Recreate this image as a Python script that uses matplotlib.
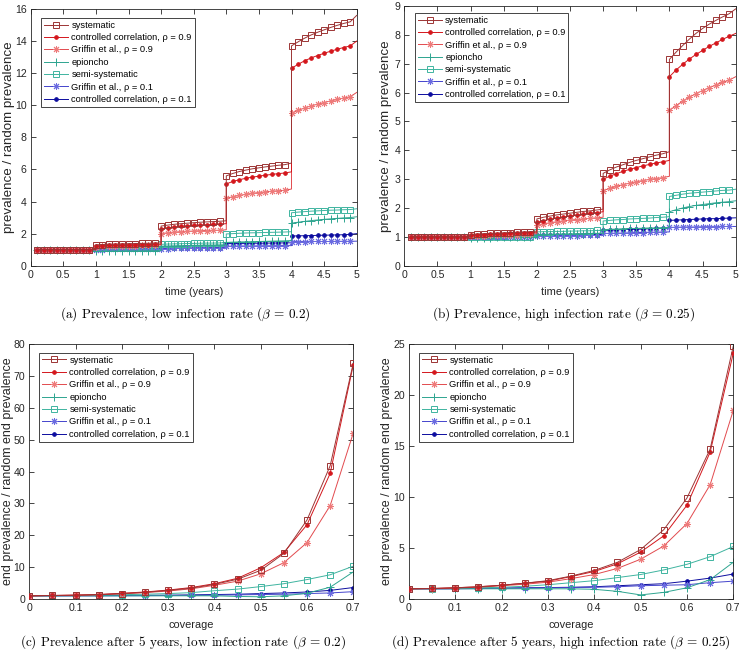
import numpy as np
import matplotlib
matplotlib.use('Agg')
import matplotlib.pyplot as plt
from matplotlib.lines import Line2D
from matplotlib.ticker import FormatStrFormatter, MultipleLocator

plt.rcParams['font.family'] = ['Liberation Sans', 'DejaVu Sans']
plt.rcParams['mathtext.fontset'] = 'cm'

# ---------------- data ----------------
labels = ['systematic', 'controlled correlation, ρ = 0.9', 'Griffin et al., ρ = 0.9',
          'epioncho', 'semi-systematic', 'Griffin et al., ρ = 0.1',
          'controlled correlation, ρ = 0.1']
years = [0, 1, 2, 3, 4]

# time series, low infection rate (beta = 0.2): marker values per year, and value at year end
sys_low = [[1.00, 1.00, 1.00, 1.00, 1.00, 1.00, 1.00, 1.00, 1.00],
           [1.30, 1.32, 1.34, 1.35, 1.36, 1.37, 1.38, 1.39, 1.40, 1.41],
           [2.47, 2.53, 2.58, 2.62, 2.65, 2.68, 2.71, 2.73, 2.75, 2.77],
           [5.60, 5.75, 5.87, 5.96, 6.04, 6.10, 6.16, 6.21, 6.26, 6.30],
           [13.70, 13.95, 14.18, 14.38, 14.55, 14.70, 14.85, 14.98, 15.10, 15.20]]
sys_low_end = [1.00, 1.42, 2.80, 6.40, 15.60]
cc9_low = [[1.00, 1.00, 1.00, 1.00, 1.00, 1.00, 1.00, 1.00, 1.00],
           [1.22, 1.24, 1.26, 1.27, 1.28, 1.29, 1.30, 1.31, 1.32, 1.33],
           [2.30, 2.36, 2.41, 2.45, 2.48, 2.51, 2.53, 2.55, 2.57, 2.59],
           [5.10, 5.25, 5.36, 5.45, 5.52, 5.58, 5.64, 5.69, 5.74, 5.78],
           [12.30, 12.55, 12.77, 12.95, 13.10, 13.24, 13.37, 13.49, 13.60, 13.70]]
cc9_low_end = [1.00, 1.34, 2.62, 5.85, 14.00]
gr9_low = [[1.00, 1.00, 1.00, 1.00, 1.00, 1.00, 1.00, 1.00, 1.00],
           [1.18, 1.20, 1.21, 1.22, 1.23, 1.24, 1.25, 1.26, 1.27, 1.28],
           [2.00, 2.05, 2.09, 2.12, 2.14, 2.16, 2.18, 2.19, 2.20, 2.21],
           [4.20, 4.30, 4.38, 4.45, 4.51, 4.56, 4.60, 4.64, 4.67, 4.70],
           [9.50, 9.68, 9.83, 9.96, 10.07, 10.17, 10.27, 10.36, 10.45, 10.53]]
gr9_low_end = [1.00, 1.29, 2.24, 4.78, 10.80]
epi_low = [[1.00, 1.00, 1.00, 1.00, 1.00, 1.00, 1.00, 1.00, 1.00],
           [0.90, 0.90, 0.91, 0.91, 0.91, 0.92, 0.92, 0.92, 0.93, 0.93],
           [1.22, 1.23, 1.24, 1.25, 1.26, 1.27, 1.28, 1.29, 1.29, 1.30],
           [1.45, 1.47, 1.48, 1.49, 1.50, 1.51, 1.52, 1.53, 1.54, 1.55],
           [2.65, 2.71, 2.76, 2.81, 2.85, 2.89, 2.92, 2.95, 2.98, 3.00]]
epi_low_end = [1.00, 0.94, 1.31, 1.57, 3.05]
semi_low = [[1.00, 1.00, 1.00, 1.00, 1.00, 1.00, 1.00, 1.00, 1.00],
            [1.08, 1.09, 1.09, 1.10, 1.10, 1.11, 1.11, 1.12, 1.12, 1.12],
            [1.33, 1.35, 1.36, 1.37, 1.38, 1.39, 1.40, 1.41, 1.41, 1.42],
            [1.98, 2.00, 2.02, 2.04, 2.05, 2.06, 2.07, 2.08, 2.09, 2.10],
            [3.30, 3.34, 3.37, 3.40, 3.42, 3.44, 3.46, 3.47, 3.49, 3.50]]
semi_low_end = [1.00, 1.13, 1.44, 2.12, 3.55]
gr1_low = [[1.00, 1.00, 1.00, 1.00, 1.00, 1.00, 1.00, 1.00, 1.00],
           [1.00, 1.00, 1.01, 1.01, 1.01, 1.01, 1.02, 1.02, 1.02, 1.02],
           [1.07, 1.07, 1.08, 1.08, 1.08, 1.09, 1.09, 1.09, 1.10, 1.10],
           [1.22, 1.22, 1.23, 1.23, 1.23, 1.24, 1.24, 1.24, 1.25, 1.25],
           [1.50, 1.50, 1.50, 1.51, 1.51, 1.51, 1.51, 1.52, 1.52, 1.52]]
gr1_low_end = [1.00, 1.02, 1.10, 1.25, 1.53]
cc1_low = [[1.00, 1.00, 1.00, 1.00, 1.00, 1.00, 1.00, 1.00, 1.00],
           [1.03, 1.03, 1.04, 1.04, 1.04, 1.04, 1.05, 1.05, 1.05, 1.05],
           [1.08, 1.09, 1.09, 1.10, 1.10, 1.10, 1.11, 1.11, 1.12, 1.12],
           [1.38, 1.38, 1.39, 1.39, 1.40, 1.40, 1.41, 1.41, 1.42, 1.42],
           [1.85, 1.86, 1.87, 1.88, 1.89, 1.90, 1.91, 1.92, 1.93, 1.95]]
cc1_low_end = [1.00, 1.05, 1.12, 1.43, 2.00]

# time series, high infection rate (beta = 0.25)
sys_high = [[1.00, 1.00, 1.00, 1.00, 1.00, 1.00, 1.00, 1.00, 1.00],
            [1.08, 1.10, 1.11, 1.12, 1.13, 1.14, 1.15, 1.16, 1.17, 1.18],
            [1.62, 1.68, 1.72, 1.76, 1.79, 1.82, 1.85, 1.88, 1.90, 1.93],
            [3.20, 3.32, 3.42, 3.50, 3.58, 3.65, 3.71, 3.77, 3.83, 3.88],
            [7.15, 7.40, 7.63, 7.85, 8.05, 8.22, 8.37, 8.50, 8.62, 8.73]]
sys_high_end = [1.00, 1.20, 1.96, 3.95, 8.90]
cc9_high = [[1.00, 1.00, 1.00, 1.00, 1.00, 1.00, 1.00, 1.00, 1.00],
            [1.05, 1.07, 1.08, 1.09, 1.10, 1.11, 1.12, 1.13, 1.14, 1.15],
            [1.50, 1.56, 1.61, 1.65, 1.69, 1.72, 1.75, 1.78, 1.81, 1.84],
            [3.00, 3.10, 3.19, 3.27, 3.34, 3.40, 3.46, 3.51, 3.56, 3.60],
            [6.55, 6.78, 6.98, 7.16, 7.32, 7.46, 7.60, 7.72, 7.84, 7.95]]
cc9_high_end = [1.00, 1.16, 1.87, 3.65, 8.05]
gr9_high = [[1.00, 1.00, 1.00, 1.00, 1.00, 1.00, 1.00, 1.00, 1.00],
            [1.02, 1.03, 1.04, 1.05, 1.06, 1.07, 1.08, 1.08, 1.09, 1.10],
            [1.40, 1.45, 1.49, 1.52, 1.55, 1.58, 1.60, 1.62, 1.64, 1.66],
            [2.60, 2.68, 2.75, 2.81, 2.86, 2.91, 2.95, 2.99, 3.02, 3.05],
            [5.38, 5.55, 5.70, 5.84, 5.96, 6.07, 6.17, 6.26, 6.35, 6.43]]
gr9_high_end = [1.00, 1.11, 1.68, 3.10, 6.55]
epi_high = [[1.00, 1.00, 1.00, 1.00, 1.00, 1.00, 1.00, 1.00, 1.00],
            [0.97, 0.97, 0.97, 0.97, 0.98, 0.98, 0.98, 0.98, 0.98, 0.98],
            [1.08, 1.08, 1.09, 1.09, 1.10, 1.10, 1.11, 1.11, 1.12, 1.12],
            [1.25, 1.26, 1.27, 1.28, 1.29, 1.29, 1.30, 1.31, 1.31, 1.32],
            [1.87, 1.94, 2.00, 2.05, 2.09, 2.12, 2.15, 2.18, 2.20, 2.22]]
epi_high_end = [1.00, 0.98, 1.13, 1.33, 2.25]
semi_high = [[1.00, 1.00, 1.00, 1.00, 1.00, 1.00, 1.00, 1.00, 1.00],
             [0.99, 0.99, 0.99, 1.00, 1.00, 1.00, 1.00, 1.01, 1.01, 1.01],
             [1.17, 1.18, 1.18, 1.19, 1.19, 1.20, 1.20, 1.21, 1.21, 1.22],
             [1.55, 1.57, 1.59, 1.60, 1.62, 1.63, 1.64, 1.65, 1.67, 1.68],
             [2.40, 2.44, 2.48, 2.51, 2.53, 2.55, 2.57, 2.59, 2.61, 2.62]]
semi_high_end = [1.00, 1.01, 1.23, 1.70, 2.65]
gr1_high = [[1.00, 1.00, 1.00, 1.00, 1.00, 1.00, 1.00, 1.00, 1.00],
            [0.99, 0.99, 0.99, 0.99, 1.00, 1.00, 1.00, 1.00, 1.00, 1.00],
            [1.03, 1.03, 1.03, 1.04, 1.04, 1.04, 1.04, 1.05, 1.05, 1.05],
            [1.12, 1.12, 1.13, 1.13, 1.14, 1.15, 1.15, 1.16, 1.16, 1.17],
            [1.33, 1.33, 1.34, 1.34, 1.34, 1.35, 1.35, 1.35, 1.36, 1.36]]
gr1_high_end = [1.00, 1.00, 1.05, 1.17, 1.36]
cc1_high = [[1.00, 1.00, 1.00, 1.00, 1.00, 1.00, 1.00, 1.00, 1.00],
            [1.00, 1.00, 1.01, 1.01, 1.01, 1.01, 1.02, 1.02, 1.02, 1.02],
            [1.05, 1.05, 1.06, 1.06, 1.06, 1.07, 1.07, 1.07, 1.08, 1.08],
            [1.22, 1.23, 1.24, 1.25, 1.26, 1.26, 1.27, 1.28, 1.29, 1.30],
            [1.57, 1.58, 1.59, 1.60, 1.61, 1.62, 1.63, 1.63, 1.64, 1.65]]
cc1_high_end = [1.00, 1.02, 1.08, 1.30, 1.66]

# end prevalence vs coverage
coverage = [0, 0.05, 0.1, 0.15, 0.2, 0.25, 0.3, 0.35, 0.4, 0.45, 0.5, 0.55, 0.6, 0.65, 0.7]
sys_cov_low = [1, 1.1, 1.2, 1.4, 1.7, 2.1, 2.7, 3.4, 4.6, 6.2, 9.0, 14.3, 24.8, 41.8, 74.0]
cc9_cov_low = [1, 1.1, 1.2, 1.4, 1.8, 2.2, 2.8, 3.6, 4.8, 6.5, 9.8, 14.6, 23.3, 39.4, 73.5]
gr9_cov_low = [1, 1.1, 1.2, 1.35, 1.6, 2.0, 2.5, 3.2, 4.3, 5.6, 7.9, 11.4, 17.7, 29.3, 52.1]
epi_cov_low = [1, 1.0, 1.0, 1.0, 1.0, 1.0, 1.0, 1.0, 1.0, 0.8, 0.7, 1.0, 1.8, 3.7, 8.5]
semi_cov_low = [1, 1.05, 1.1, 1.2, 1.35, 1.5, 1.7, 2.0, 2.6, 3.1, 3.9, 4.8, 6.1, 7.6, 10.3]
gr1_cov_low = [1, 1.0, 1.0, 1.0, 1.0, 1.05, 1.1, 1.1, 1.2, 1.3, 1.4, 1.5, 1.7, 1.9, 2.3]
cc1_cov_low = [1, 1.0, 1.05, 1.05, 1.1, 1.15, 1.2, 1.3, 1.4, 1.5, 1.7, 1.9, 2.2, 2.7, 3.6]

sys_cov_high = [1, 1.03, 1.1, 1.2, 1.35, 1.55, 1.8, 2.25, 2.8, 3.6, 4.85, 6.8, 9.9, 14.7, 24.8]
cc9_cov_high = [1, 1.03, 1.1, 1.2, 1.35, 1.55, 1.75, 2.2, 2.7, 3.45, 4.6, 6.2, 9.2, 14.4, 24.1]
gr9_cov_high = [1, 1.02, 1.08, 1.15, 1.3, 1.45, 1.65, 2.0, 2.4, 3.0, 3.9, 5.2, 7.4, 11.2, 18.5]
epi_cov_high = [1, 1.0, 1.0, 1.0, 1.0, 1.0, 1.0, 1.0, 0.95, 0.75, 0.4, 0.65, 1.1, 1.9, 3.6]
semi_cov_high = [1, 1.02, 1.05, 1.1, 1.15, 1.25, 1.4, 1.6, 1.8, 2.1, 2.4, 2.85, 3.4, 4.15, 5.15]
gr1_cov_high = [1, 1.0, 1.0, 1.02, 1.05, 1.07, 1.1, 1.12, 1.15, 1.2, 1.3, 1.35, 1.4, 1.6, 1.75]
cc1_cov_high = [1, 1.0, 1.02, 1.05, 1.07, 1.1, 1.12, 1.15, 1.2, 1.3, 1.4, 1.5, 1.75, 2.05, 2.45]

captions = [r'(a) Prevalence, low infection rate ($\beta$ = 0.2)',
            r'(b) Prevalence, high infection rate ($\beta$ = 0.25)',
            r'(c) Prevalence after 5 years, low infection rate ($\beta$ = 0.2)',
            r'(d) Prevalence after 5 years, high infection rate ($\beta$ = 0.25)']

# ---------------- styles ----------------
styles = [
    dict(color='#9c3434', marker='s', ms=5, mfc='none', mec='#9c3434'),
    dict(color='#d4161c', marker='o', ms=2.6, mfc='#d4161c', mec='#d4161c'),
    dict(color='#e24a4e', marker=(8, 2, 0), ms=5, mfc='#ee7a7a', mec='#ee7a7a'),
    dict(color='#2ea590', marker='+', ms=6, mfc='#2ea590', mec='#2ea590'),
    dict(color='#3fb4a0', marker='s', ms=5, mfc='none', mec='#3fb4a0'),
    dict(color='#4444cc', marker=(8, 2, 0), ms=5, mfc='#6a6ae0', mec='#6a6ae0'),
    dict(color='#0c0c9e', marker='o', ms=2.6, mfc='#0c0c9e', mec='#0c0c9e'),
]
LW = 0.7
TXT = '#262626'

W, H = 740, 655
fig = plt.figure(figsize=(W / 100, H / 100), dpi=100)


def ax_at(left, top, right, bottom):
    return fig.add_axes([left / W, 1 - bottom / H, (right - left) / W, (bottom - top) / H])


def style_axes(ax):
    ax.tick_params(direction='in', length=3.5, width=0.6, top=True, right=True,
                   labelsize=7.6, colors=TXT, pad=3)
    for s in ax.spines.values():
        s.set_linewidth(0.6)
        s.set_color(TXT)


def add_legend(ax, ax_x, ax_y):
    handles = [Line2D([], [], color=st['color'], lw=LW, marker=st['marker'], ms=st['ms'],
                      mfc=st['mfc'], mec=st['mec'], mew=0.7) for st in styles]
    leg = ax.legend(handles, labels, loc='upper left', bbox_to_anchor=(ax_x, ax_y),
                    borderaxespad=0, fontsize=6.7, labelspacing=0.36, borderpad=0.3,
                    handlelength=2.6, handletextpad=0.35, fancybox=False, framealpha=1,
                    edgecolor=TXT)
    leg.get_frame().set_linewidth(0.6)
    for t in leg.get_texts():
        t.set_color('black')


def time_plot(ax, series, ends):
    for i in reversed(range(len(series))):
        st = styles[i]
        mx, my, lx, ly = [], [], [], []
        for k, yr in enumerate(years):
            vals = series[i][k]
            n = len(vals)
            xs = list(yr + 1 - 0.1 * np.arange(n, 0, -1))
            mx += xs
            my += vals
            lx += xs + [yr + 1]
            ly += vals + [ends[i][k]]
        ax.plot(lx, ly, color=st['color'], lw=LW, zorder=2 + (7 - i) * 0.1)
        ax.plot(mx, my, ls='none', marker=st['marker'], ms=st['ms'], mfc=st['mfc'],
                mec=st['mec'], mew=0.7, zorder=2 + (7 - i) * 0.1)
    ax.set_xlim(0, 5)
    ax.xaxis.set_major_locator(MultipleLocator(0.5))
    ax.xaxis.set_major_formatter(FormatStrFormatter('%g'))
    ax.set_xlabel('time (years)', fontsize=7.9, color=TXT, labelpad=5)
    ax.set_ylabel('prevalence / random prevalence', fontsize=9.6, color=TXT)


def cov_plot(ax, series):
    for i in reversed(range(len(series))):
        st = styles[i]
        ax.plot(coverage, series[i], color=st['color'], lw=LW, marker=st['marker'], ms=st['ms'],
                mfc=st['mfc'], mec=st['mec'], mew=0.7, zorder=2 + (7 - i) * 0.1)
    ax.set_xlim(0, 0.7)
    ax.xaxis.set_major_locator(MultipleLocator(0.1))
    ax.xaxis.set_major_formatter(FormatStrFormatter('%g'))
    ax.set_xlabel('coverage', fontsize=7.9, color=TXT, labelpad=5)
    ax.set_ylabel('end prevalence / random end prevalence', fontsize=9.0, color=TXT)


ax1 = ax_at(30.7, 9, 356.7, 265.7)
time_plot(ax1, [sys_low, cc9_low, gr9_low, epi_low, semi_low, gr1_low, cc1_low],
          [sys_low_end, cc9_low_end, gr9_low_end, epi_low_end, semi_low_end, gr1_low_end, cc1_low_end])
ax1.set_ylim(0, 16)
ax1.yaxis.set_major_locator(MultipleLocator(2))
ax1.yaxis.set_label_coords(-0.0475, 0.5)

ax2 = ax_at(404.3, 6, 735.7, 265.7)
time_plot(ax2, [sys_high, cc9_high, gr9_high, epi_high, semi_high, gr1_high, cc1_high],
          [sys_high_end, cc9_high_end, gr9_high_end, epi_high_end, semi_high_end, gr1_high_end, cc1_high_end])
ax2.set_ylim(0, 9)
ax2.yaxis.set_major_locator(MultipleLocator(1))
ax2.yaxis.set_label_coords(-0.037, 0.5)

ax3 = ax_at(29.3, 344, 353.3, 599)
cov_plot(ax3, [sys_cov_low, cc9_cov_low, gr9_cov_low, epi_cov_low, semi_cov_low, gr1_cov_low, cc1_cov_low])
ax3.set_ylim(0, 80)
ax3.yaxis.set_major_locator(MultipleLocator(10))
ax3.yaxis.set_label_coords(-0.047, 0.5)

ax4 = ax_at(409, 344, 733.3, 599)
cov_plot(ax4, [sys_cov_high, cc9_cov_high, gr9_cov_high, epi_cov_high, semi_cov_high, gr1_cov_high, cc1_cov_high])
ax4.set_ylim(0, 25)
ax4.yaxis.set_major_locator(MultipleLocator(5))
ax4.yaxis.set_label_coords(-0.049, 0.5)

for ax in (ax1, ax2, ax3, ax4):
    style_axes(ax)
add_legend(ax1, 0.032, 0.965)
add_legend(ax2, 0.032, 0.973)
add_legend(ax3, 0.030, 0.965)
add_legend(ax4, 0.031, 0.965)

cap_pos = [(185, 314), (564, 314), (183, 642), (561, 642)]
for (cx, cy), txt in zip(cap_pos, captions):
    fig.text(cx / W, 1 - cy / H, txt, ha='center', va='center', fontsize=9.5,
             family='cmr10', color='black')

fig.savefig('out.png', dpi=100)
